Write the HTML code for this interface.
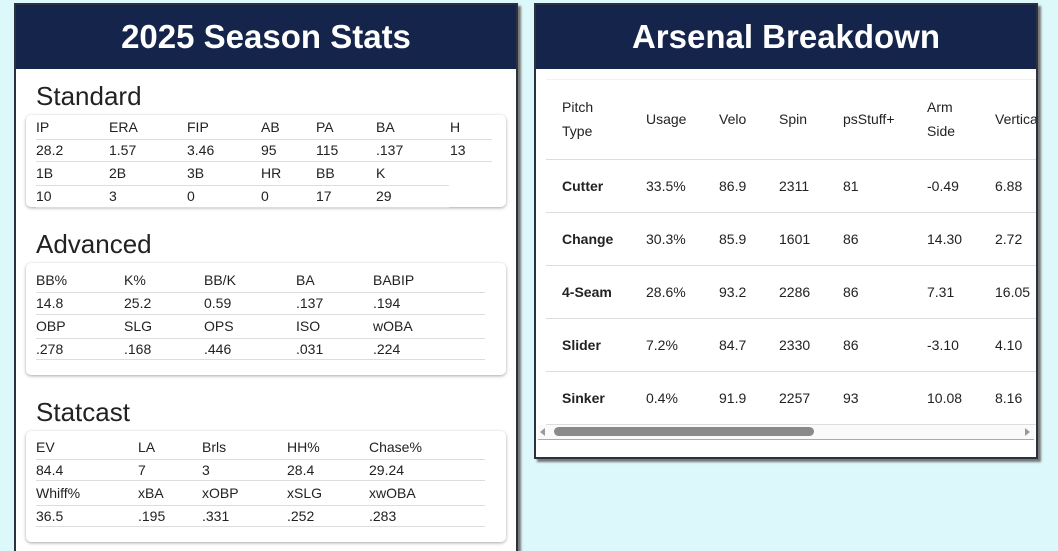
<!DOCTYPE html>
<html><head><meta charset="utf-8"><style>
*{margin:0;padding:0;box-sizing:border-box}
html,body{width:1058px;height:551px;overflow:hidden}
body{background:#dcf8fa;font-family:"Liberation Sans",Arial,sans-serif;color:#222;position:relative}
#wrap{position:absolute;left:0;top:0;width:1058px;height:551px;overflow:hidden}
.panel{position:absolute;background:#fff;border:2px solid #2a3140;box-shadow:3px 3px 2px #777;overflow:hidden}
.hdr{position:absolute;left:0;right:0;top:0;height:64px;background:#15244a;color:#fff;font-weight:bold;font-size:33px;text-align:center;line-height:64px}
.t{position:absolute;font-size:14px;line-height:16px;white-space:nowrap}
.h2{position:absolute;font-size:26px;line-height:30px;color:#222}
.card{position:absolute;background:#fff;border-radius:5px;box-shadow:0 1px 3px rgba(0,0,0,.35)}
.ln{position:absolute;height:1px;background:#ddd}
.b{font-weight:bold}
</style></head><body><div id="wrap">

<div class="panel" style="left:14px;top:3px;width:504px;height:570px">
<div class="hdr">2025 Season Stats</div>
</div>
<div style="position:absolute;left:0;top:0;width:1058px;height:551px">
<div class="h2" style="left:36px;top:81px">Standard</div>
<div class="card" style="left:26px;top:115px;width:480px;height:92px"></div>
<div class="ln" style="left:36px;top:139px;width:456px"></div>
<div class="ln" style="left:36px;top:161px;width:456px"></div>
<div class="ln" style="left:36px;top:185px;width:413px"></div>
<div class="ln" style="left:36px;top:207px;width:413px"></div>
<div class="t" style="left:36px;top:119px">IP</div><div class="t" style="left:109px;top:119px">ERA</div><div class="t" style="left:187px;top:119px">FIP</div><div class="t" style="left:261px;top:119px">AB</div><div class="t" style="left:316px;top:119px">PA</div><div class="t" style="left:376px;top:119px">BA</div><div class="t" style="left:450px;top:119px">H</div>
<div class="t" style="left:36px;top:142px">28.2</div><div class="t" style="left:109px;top:142px">1.57</div><div class="t" style="left:187px;top:142px">3.46</div><div class="t" style="left:261px;top:142px">95</div><div class="t" style="left:316px;top:142px">115</div><div class="t" style="left:376px;top:142px">.137</div><div class="t" style="left:450px;top:142px">13</div>
<div class="t" style="left:36px;top:165px">1B</div><div class="t" style="left:109px;top:165px">2B</div><div class="t" style="left:187px;top:165px">3B</div><div class="t" style="left:261px;top:165px">HR</div><div class="t" style="left:316px;top:165px">BB</div><div class="t" style="left:376px;top:165px">K</div>
<div class="t" style="left:36px;top:188px">10</div><div class="t" style="left:109px;top:188px">3</div><div class="t" style="left:187px;top:188px">0</div><div class="t" style="left:261px;top:188px">0</div><div class="t" style="left:316px;top:188px">17</div><div class="t" style="left:376px;top:188px">29</div>

<div class="h2" style="left:36px;top:229px">Advanced</div>
<div class="card" style="left:26px;top:263px;width:480px;height:112px"></div>
<div class="ln" style="left:36px;top:292px;width:449px"></div>
<div class="ln" style="left:36px;top:314px;width:449px"></div>
<div class="ln" style="left:36px;top:338px;width:449px"></div>
<div class="ln" style="left:36px;top:359px;width:449px"></div>
<div class="t" style="left:36px;top:272px">BB%</div><div class="t" style="left:124px;top:272px">K%</div><div class="t" style="left:204px;top:272px">BB/K</div><div class="t" style="left:296px;top:272px">BA</div><div class="t" style="left:373px;top:272px">BABIP</div>
<div class="t" style="left:36px;top:295px">14.8</div><div class="t" style="left:124px;top:295px">25.2</div><div class="t" style="left:204px;top:295px">0.59</div><div class="t" style="left:296px;top:295px">.137</div><div class="t" style="left:373px;top:295px">.194</div>
<div class="t" style="left:36px;top:318px">OBP</div><div class="t" style="left:124px;top:318px">SLG</div><div class="t" style="left:204px;top:318px">OPS</div><div class="t" style="left:296px;top:318px">ISO</div><div class="t" style="left:373px;top:318px">wOBA</div>
<div class="t" style="left:36px;top:341px">.278</div><div class="t" style="left:124px;top:341px">.168</div><div class="t" style="left:204px;top:341px">.446</div><div class="t" style="left:296px;top:341px">.031</div><div class="t" style="left:373px;top:341px">.224</div>

<div class="h2" style="left:36px;top:397px">Statcast</div>
<div class="card" style="left:26px;top:431px;width:480px;height:111px"></div>
<div class="ln" style="left:36px;top:459px;width:449px"></div>
<div class="ln" style="left:36px;top:480px;width:449px"></div>
<div class="ln" style="left:36px;top:505px;width:449px"></div>
<div class="ln" style="left:36px;top:526px;width:449px"></div>
<div class="t" style="left:36px;top:439px">EV</div><div class="t" style="left:138px;top:439px">LA</div><div class="t" style="left:202px;top:439px">Brls</div><div class="t" style="left:287px;top:439px">HH%</div><div class="t" style="left:369px;top:439px">Chase%</div>
<div class="t" style="left:36px;top:462px">84.4</div><div class="t" style="left:138px;top:462px">7</div><div class="t" style="left:202px;top:462px">3</div><div class="t" style="left:287px;top:462px">28.4</div><div class="t" style="left:369px;top:462px">29.24</div>
<div class="t" style="left:36px;top:485px">Whiff%</div><div class="t" style="left:138px;top:485px">xBA</div><div class="t" style="left:202px;top:485px">xOBP</div><div class="t" style="left:287px;top:485px">xSLG</div><div class="t" style="left:369px;top:485px">xwOBA</div>
<div class="t" style="left:36px;top:508px">36.5</div><div class="t" style="left:138px;top:508px">.195</div><div class="t" style="left:202px;top:508px">.331</div><div class="t" style="left:287px;top:508px">.252</div><div class="t" style="left:369px;top:508px">.283</div>
</div>

<div class="panel" style="left:534px;top:3px;width:504px;height:456px">
<div class="hdr">Arsenal Breakdown</div>
<div class="ln" style="left:10px;top:74px;width:500px;background:#f0f0f0"></div>
<div style="position:absolute;left:0;top:-2px;width:500px;height:456px;font-size:14px">
<div class="t" style="left:26px;top:96px">Pitch</div><div class="t" style="left:26px;top:120px">Type</div>
<div class="t" style="left:110px;top:108px">Usage</div><div class="t" style="left:183px;top:108px">Velo</div><div class="t" style="left:243px;top:108px">Spin</div><div class="t" style="left:307px;top:108px">psStuff+</div>
<div class="t" style="left:391px;top:96px">Arm</div><div class="t" style="left:391px;top:120px">Side</div><div class="t" style="left:459px;top:108px">Vertical</div>
<div class="ln" style="left:10px;top:156px;width:500px"></div>
<div class="t b" style="left:26px;top:175px">Cutter</div><div class="t" style="left:110px;top:175px">33.5%</div><div class="t" style="left:183px;top:175px">86.9</div><div class="t" style="left:243px;top:175px">2311</div><div class="t" style="left:307px;top:175px">81</div><div class="t" style="left:391px;top:175px">-0.49</div><div class="t" style="left:459px;top:175px">6.88</div>
<div class="ln" style="left:10px;top:209px;width:500px"></div>
<div class="t b" style="left:26px;top:228px">Change</div><div class="t" style="left:110px;top:228px">30.3%</div><div class="t" style="left:183px;top:228px">85.9</div><div class="t" style="left:243px;top:228px">1601</div><div class="t" style="left:307px;top:228px">86</div><div class="t" style="left:391px;top:228px">14.30</div><div class="t" style="left:459px;top:228px">2.72</div>
<div class="ln" style="left:10px;top:262px;width:500px"></div>
<div class="t b" style="left:26px;top:281px">4-Seam</div><div class="t" style="left:110px;top:281px">28.6%</div><div class="t" style="left:183px;top:281px">93.2</div><div class="t" style="left:243px;top:281px">2286</div><div class="t" style="left:307px;top:281px">86</div><div class="t" style="left:391px;top:281px">7.31</div><div class="t" style="left:459px;top:281px">16.05</div>
<div class="ln" style="left:10px;top:315px;width:500px"></div>
<div class="t b" style="left:26px;top:334px">Slider</div><div class="t" style="left:110px;top:334px">7.2%</div><div class="t" style="left:183px;top:334px">84.7</div><div class="t" style="left:243px;top:334px">2330</div><div class="t" style="left:307px;top:334px">86</div><div class="t" style="left:391px;top:334px">-3.10</div><div class="t" style="left:459px;top:334px">4.10</div>
<div class="ln" style="left:10px;top:368px;width:500px"></div>
<div class="t b" style="left:26px;top:387px">Sinker</div><div class="t" style="left:110px;top:387px">0.4%</div><div class="t" style="left:183px;top:387px">91.9</div><div class="t" style="left:243px;top:387px">2257</div><div class="t" style="left:307px;top:387px">93</div><div class="t" style="left:391px;top:387px">10.08</div><div class="t" style="left:459px;top:387px">8.16</div>
<div class="ln" style="left:10px;top:421px;width:500px"></div>
<div style="position:absolute;left:2px;top:422px;width:496px;height:15px;background:#fafafa;border-bottom:1px solid #aaa"></div>
<div style="position:absolute;left:18px;top:424px;width:260px;height:9px;border-radius:5px;background:#8a8a8a"></div>
<div style="position:absolute;left:4px;top:425px;width:0;height:0;border-top:4px solid transparent;border-bottom:4px solid transparent;border-right:5px solid #999"></div>
<div style="position:absolute;left:489px;top:425px;width:0;height:0;border-top:4px solid transparent;border-bottom:4px solid transparent;border-left:5px solid #999"></div>
</div>
</div>
</div></body></html>
